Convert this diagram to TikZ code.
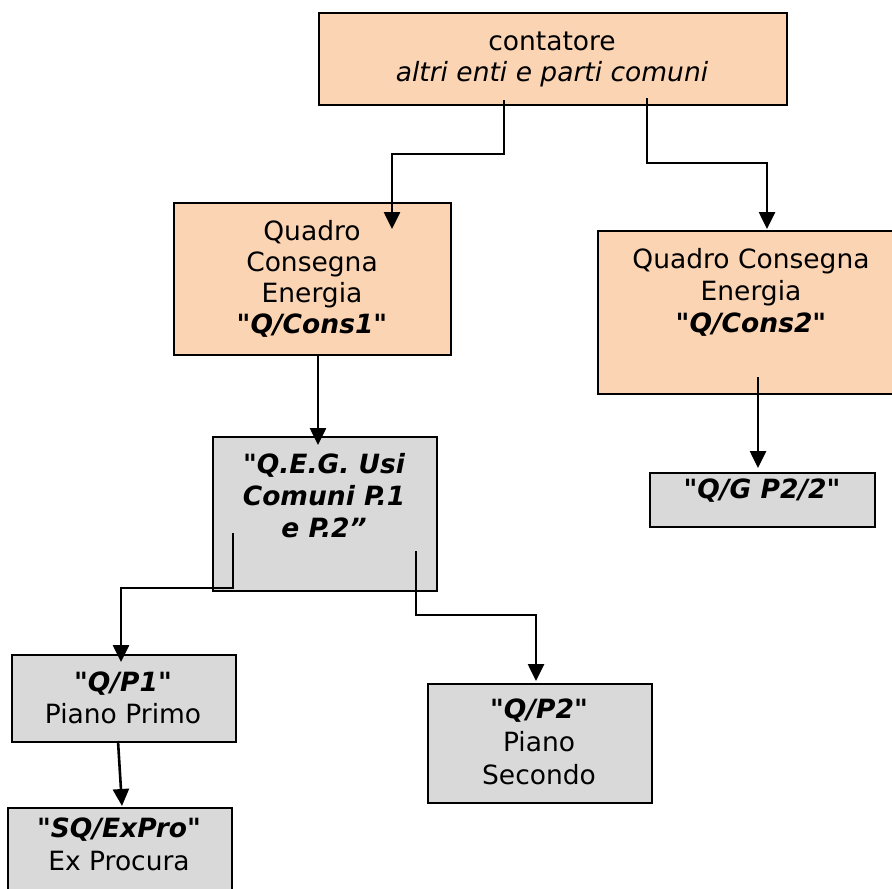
\documentclass[tikz,border=0pt]{standalone}
\usepackage{fontspec}
\setmainfont{DejaVu Sans}[Ligatures=TeXOff]
\usetikzlibrary{arrows.meta}
\definecolor{peach}{HTML}{FBD4B4}
\definecolor{panelgray}{HTML}{D9D9D9}
\tikzset{
  box/.style={draw=black, line width=1.9pt, rectangle, inner sep=0pt, anchor=north west},
  warm/.style={box, fill=peach},
  cool/.style={box, fill=panelgray},
  ln/.style={font=\fontsize{26.5}{32}\selectfont, anchor=base, inner sep=0pt},
  it/.style={ln, font=\fontsize{26.5}{32}\selectfont\itshape},
  hl/.style={ln, font=\fontsize{26.5}{32}\selectfont\bfseries\itshape},
  wire/.style={line width=2.6pt, -{Triangle[width=16pt,length=17pt]}},
}
\begin{document}
\begin{tikzpicture}[x=1pt, y=-1pt]
\useasboundingbox (0,0) rectangle (892,889);

% boxes
\node[warm, minimum width=468pt, minimum height=92pt]  (cont)  at (318,12)  {};
\node[warm, minimum width=277pt, minimum height=152pt] (cons1) at (173,202) {};
\node[warm, minimum width=308pt, minimum height=163pt] (cons2) at (597,230) {};
\node[cool, minimum width=224pt, minimum height=154pt] (qeg)   at (212,436) {};
\node[cool, minimum width=225pt, minimum height=54pt]  (qgp)   at (649,472) {};
\node[cool, minimum width=224pt, minimum height=87pt]  (qp1)   at (11,654)  {};
\node[cool, minimum width=224pt, minimum height=119pt] (qp2)   at (427,683) {};
\node[cool, minimum width=224pt, minimum height=110pt] (sqb)   at (7,807)   {};

% labels
\node[ln] (contA) at (552,50) {contatore};
\node[it] (contB) at (552,81) {altri enti e parti comuni};

\node[ln] (cons1A) at (312,240) {Quadro};
\node[ln] (cons1B) at (312,271) {Consegna};
\node[ln] (cons1C) at (312,302) {Energia};
\node[hl] (cons1D) at (312,333) {"Q/Cons1"};

\node[ln] (cons2A) at (751,268) {Quadro Consegna};
\node[ln] (cons2B) at (751,300) {Energia};
\node[hl] (cons2C) at (751,332) {"Q/Cons2"};

\node[hl] (qegA) at (324,473) {"Q.E.G. Usi};
\node[hl] (qegB) at (324,505) {Comuni P.1};
\node[hl] (qegC) at (324,537) {e P.2”};

\node[hl] (qgpA) at (762,498) {"Q/G P2/2"};

\node[hl] (qp1A) at (123,691) {"Q/P1"};
\node[ln] (qp1B) at (123,723) {Piano Primo};

\node[hl] (qp2A) at (539,718) {"Q/P2"};
\node[ln] (qp2B) at (539,751) {Piano};
\node[ln] (qp2C) at (539,784) {Secondo};

\node[hl] (sqA) at (119,837) {"SQ/ExPro"};
\node[ln] (sqB) at (119,870) {Ex Procura};

% connector points
\coordinate (a1) at (504,100); \coordinate (a2) at (504,154);
\coordinate (a3) at (392,154); \coordinate (a4) at (392,229);
\coordinate (b1) at (647,98);  \coordinate (b2) at (647,163);
\coordinate (b3) at (767,163); \coordinate (b4) at (767,229);
\coordinate (c1) at (318,354); \coordinate (c2) at (318,445);
\coordinate (d1) at (758,377); \coordinate (d2) at (758,468);
\coordinate (e1) at (233,533); \coordinate (e2) at (233,588);
\coordinate (e3) at (121,588); \coordinate (e4) at (121,662);
\coordinate (f1) at (416,551); \coordinate (f2) at (416,615);
\coordinate (f3) at (536,615); \coordinate (f4) at (536,681);
\coordinate (g1) at (118,741); \coordinate (g2) at (122,806);

% connectors
\draw[wire] (a1) -- (a2) -- (a3) -- (a4);
\draw[wire] (b1) -- (b2) -- (b3) -- (b4);
\draw[wire] (c1) -- (c2);
\draw[wire] (d1) -- (d2);
\draw[wire] (e1) -- (e2) -- (e3) -- (e4);
\draw[wire] (f1) -- (f2) -- (f3) -- (f4);
\draw[wire] (g1) -- (g2);
\end{tikzpicture}
\end{document}
